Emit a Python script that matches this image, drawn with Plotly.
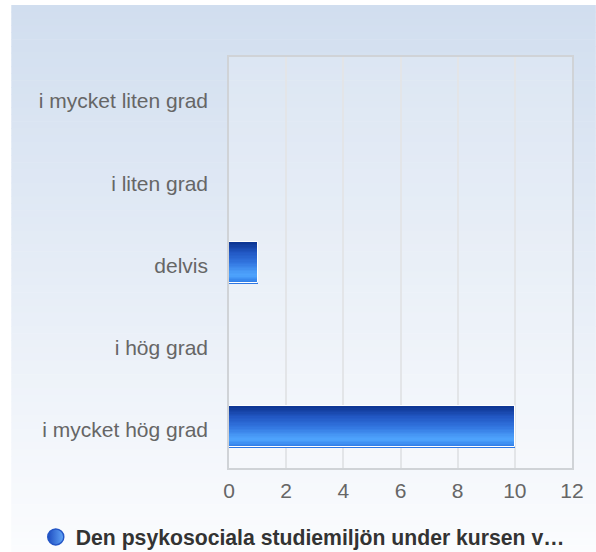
import plotly.graph_objects as go

# ---- data ----
categories = ["i mycket liten grad", "i liten grad", "delvis", "i hög grad", "i mycket hög grad"]
values = [0, 0, 1, 0, 10]
series_name = "Den psykosociala studiemiljön under kursen v…"
x_ticks = [0, 2, 4, 6, 8, 10, 12]

# ---- layout geometry ----
W, H = 596, 552
L, R, T, B = 229, 22, 57, 84
PW, PH = W - L - R, H - T - B

def px_x(p):
    return (p - L) / PW

def px_y(p):
    return (H - B - p) / PH

def lerp(c1, c2, t):
    return tuple(round(a + (b - a) * t) for a, b in zip(c1, c2))

def hex2rgb(h):
    h = h.lstrip("#")
    return tuple(int(h[i:i + 2], 16) for i in (0, 2, 4))

def grad(stops, t):
    for (t0, c0), (t1, c1) in zip(stops, stops[1:]):
        if t0 <= t <= t1:
            return lerp(hex2rgb(c0), hex2rgb(c1), (t - t0) / (t1 - t0) if t1 > t0 else 0)
    return hex2rgb(stops[-1][1])

fig = go.Figure()

# bar built from horizontal strips to give a vertical gradient (t=0 bottom, t=1 top)
bar_stops = [(0.0, "#2a72e0"), (0.08, "#3888ee"), (0.20, "#4ea4fd"), (0.30, "#4899f6"),
             (0.50, "#3276e0"), (0.75, "#2258c4"), (1.0, "#0d3592")]
N = 30
band = 0.5
w = band / N
y_order = categories[::-1]
vals_order = values[::-1]
for i in range(N):
    t = (i + 0.5) / N
    c = grad(bar_stops, t)
    fig.add_trace(go.Bar(
        x=vals_order, y=y_order, orientation="h",
        width=w * 1.02, offset=-band / 2 + i * w,
        marker=dict(color="rgb(%d,%d,%d)" % c, line=dict(width=0)),
        showlegend=False, hoverinfo="skip",
    ))
# white outline
fig.add_trace(go.Bar(
    x=vals_order, y=y_order, orientation="h",
    width=band, offset=-band / 2,
    marker=dict(color="rgba(0,0,0,0)", line=dict(color="white", width=1)),
    showlegend=False, hoverinfo="skip",
))
# legend entry
fig.add_trace(go.Scatter(
    x=[None], y=[None], mode="markers", name=series_name,
    marker=dict(symbol="circle", size=20, color="#1d4cc0",
                gradient=dict(type="horizontal", color="#62a6f8"),
                line=dict(width=1.5, color="#2456c6")),
))

# background gradient
shapes = []
top_c, bot_c = hex2rgb("#d1deef"), hex2rgb("#fbfcfe")
nb = 80
y_top, y_bot = 5, H
for i in range(nb):
    p0 = y_top + (y_bot - y_top) * i / nb
    p1 = y_top + (y_bot - y_top) * (i + 1) / nb + 0.6
    c = lerp(top_c, bot_c, i / (nb - 1))
    shapes.append(dict(type="rect", xref="paper", yref="paper",
                       x0=px_x(10), x1=px_x(W + 2), y0=px_y(min(p1, H + 2)), y1=px_y(p0),
                       fillcolor="rgb(%d,%d,%d)" % c, line=dict(width=0), layer="below"))
shapes.append(dict(type="rect", xref="paper", yref="paper", x0=0, x1=1, y0=0, y1=1,
                   fillcolor="rgba(255,255,255,0.18)", line=dict(width=0), layer="below"))

fig.update_layout(
    width=W, height=H,
    margin=dict(l=L, r=R, t=T, b=B, pad=0),
    paper_bgcolor="white", plot_bgcolor="rgba(0,0,0,0)",
    barmode="overlay", bargap=0,
    shapes=shapes,
    font=dict(family="Liberation Sans, Arial, sans-serif", size=21, color="#666666"),
    xaxis=dict(range=[0, 12], tickvals=x_ticks, ticktext=[str(v) for v in x_ticks],
               showgrid=True, gridcolor="#e3e5e8", gridwidth=1.5,
               showline=True, linecolor="#d0d3d7", linewidth=1.5, mirror=True,
               zeroline=False, ticks="", ticklabelstandoff=3,
               tickfont=dict(size=21, color="#666666")),
    yaxis=dict(type="category", categoryorder="array", categoryarray=y_order,
               showgrid=False, showline=True, linecolor="#d0d3d7", linewidth=1.5, mirror=True,
               ticks="", ticklabelstandoff=15, ticklabelshift=3,
               tickfont=dict(size=21, color="#666666")),
    legend=dict(orientation="h", xref="container", yref="container",
                x=0.508, xanchor="center", y=0.027, yanchor="middle",
                bgcolor="rgba(0,0,0,0)",
                font=dict(size=21.2, color="#333333", family="Liberation Sans, Arial, sans-serif", weight="bold"),
                itemwidth=30),
)

fig.write_html(
    "out.html",
    config={"displayModeBar": False},
    post_script="document.body.style.margin='0';document.body.style.overflow='hidden';",
)
